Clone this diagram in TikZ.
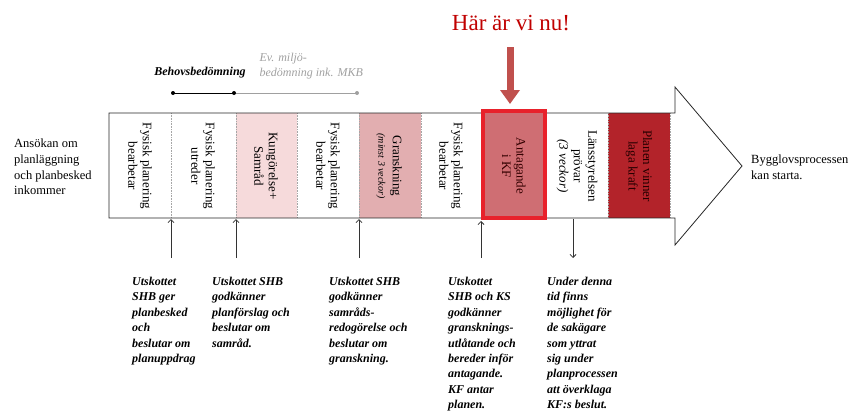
\documentclass[tikz,border=0pt]{standalone}
\usepackage{fontspec}
\setmainfont{Liberation Serif}
\usepackage{tikz}
\usetikzlibrary{arrows.meta, positioning}

\definecolor{samrad}{HTML}{F6DADB}
\definecolor{gransk}{HTML}{E2AEB0}
\definecolor{antagfill}{HTML}{CF6E73}
\definecolor{antagred}{HTML}{E8212B}
\definecolor{lagakraft}{HTML}{B3232A}
\definecolor{herered}{HTML}{C0504D}
\definecolor{heretext}{HTML}{C00000}
\definecolor{miljogray}{HTML}{A0A0A0}

\begin{document}
\begin{tikzpicture}[x=1pt, y=-1pt,
    phase/.style={rotate=-90, align=center, inner sep=0pt, font=\fontsize{13}{14.5}\selectfont},
    note/.style={anchor=north west, align=left, inner sep=0pt, font=\fontsize{12}{15.4}\selectfont\bfseries\itshape},
    side/.style={anchor=north west, align=left, inner sep=0pt, font=\fontsize{12.5}{15.7}\selectfont},
    sep/.style={draw=gray!70, densely dotted, line width=0.6pt},
    up/.style={draw=black!80, line width=0.8pt, ->},
    >={Straight Barb[length=3pt,width=6pt]}
    ]
    \useasboundingbox (0,0) rectangle (851,410);

    % fills of the phases
    \fill[samrad] (236,113) rectangle (297,218);
    \fill[gransk] (359,113) rectangle (421,218);
    \fill[lagakraft] (608,113) rectangle (670,218);

    \draw[sep] (171,113) -- (171,218);
    \draw[sep] (236,113) -- (236,218);
    \draw[sep] (297,113) -- (297,218);
    \draw[sep] (359,113) -- (359,218);
    \draw[sep] (421,113) -- (421,218);
    \draw[sep] (608,113) -- (608,218);
    \draw[sep] (670,113) -- (670,218);

    % big arrow
    \draw[line width=0.8pt, draw=black!85] (109,113) -- (675,113) -- (675,87) -- (742,166)
        -- (675,245) -- (675,218) -- (109,218) -- cycle;

    % current phase
    \draw[line width=4pt, draw=antagred, fill=antagfill] (483,111) rectangle (545,218);

    \node[phase] (p1) at (140,166) {Fysisk planering\\bearbetar};
    \node[phase] (p2) at (203,166) {Fysisk planering\\utreder};
    \node[phase] (p3) at (266,166) {Kungörelse+\\Samråd};
    \node[phase] (p4) at (328,166) {Fysisk planering\\bearbetar};
    \node[phase] (p5) at (389,166) {Granskning\\{\fontsize{10}{12}\selectfont\itshape (minst 3 veckor)}};
    \node[phase] (p6) at (451,166) {Fysisk planering\\bearbetar};
    \node[phase, text=black!80!red] (p7) at (514,166) {Antagande\\i KF};
    \node[phase] (p8) at (577,166) {Länsstyrelsen\\prövar\\{\itshape (3 veckor)}};
    \node[phase, text=black!85!red] (p9) at (639,166) {Planen vinner\\laga kraft};

    % start and end
    \node[side] (start) at (14,139) {Ansökan om\\planläggning\\och planbesked\\inkommer};
    \node[side] (end) at (751,155) {Bygglovsprocessen\\kan starta.};

    % behovsbedömning
    \node[font=\fontsize{12}{13}\selectfont\bfseries\itshape] (behov) at (200,73) {Behovsbedömning};
    \node[anchor=west, align=left, text=miljogray, font=\fontsize{12}{15}\selectfont\itshape] (miljo) at (256,66) {Ev. miljö-\\bedömning ink. MKB};
    \coordinate (b1) at (173,93);
    \coordinate (b2) at (234,93);
    \coordinate (b3) at (357,93);
    \draw[miljogray, line width=0.8pt] (b2) -- (b3);
    \draw[black, line width=0.9pt] (b1) -- (b2);
    \fill[black] (b1) circle (2pt) (b2) circle (2pt);
    \fill[miljogray] (b3) circle (2pt);

    % here we are
    \node[text=heretext, font=\fontsize{23}{26}\selectfont] (here) at (511,23) {Här är vi nu!};
    \coordinate (hereA) at (510,47);
    \coordinate (hereB) at (510,104);
    \draw[herered, line width=7pt, -{Triangle[length=14pt,width=19pt]}] (hereA) -- (hereB);

    % decisions
    \coordinate (u1) at (171,258); \coordinate (t1) at (171,219);
    \coordinate (u2) at (236,258); \coordinate (t2) at (236,219);
    \coordinate (u3) at (359,258); \coordinate (t3) at (359,219);
    \coordinate (u4) at (481,258); \coordinate (t4) at (481,221);
    \coordinate (u5) at (573,258); \coordinate (t5) at (573,219);
    \draw[up] (u1) -- (t1);
    \draw[up] (u2) -- (t2);
    \draw[up] (u3) -- (t3);
    \draw[up] (u4) -- (t4);
    \draw[up] (t5) -- (u5);

    \node[note] (n1) at (132,277) {Utskottet\\SHB ger\\planbesked\\och\\beslutar om\\planuppdrag};
    \node[note] (n2) at (212,277) {Utskottet SHB\\godkänner\\planförslag och\\beslutar om\\samråd.};
    \node[note] (n3) at (329,277) {Utskottet SHB\\godkänner\\samråds-\\redogörelse och\\beslutar om\\granskning.};
    \node[note] (n4) at (448,277) {Utskottet\\SHB och KS\\godkänner\\gransknings-\\utlåtande och\\bereder inför\\antagande.\\KF antar\\planen.};
    \node[note] (n5) at (547,277) {Under denna\\tid finns\\möjlighet för\\de sakägare\\som yttrat\\sig under\\planprocessen\\att överklaga\\KF:s beslut.};
  \end{tikzpicture}
\end{document}
